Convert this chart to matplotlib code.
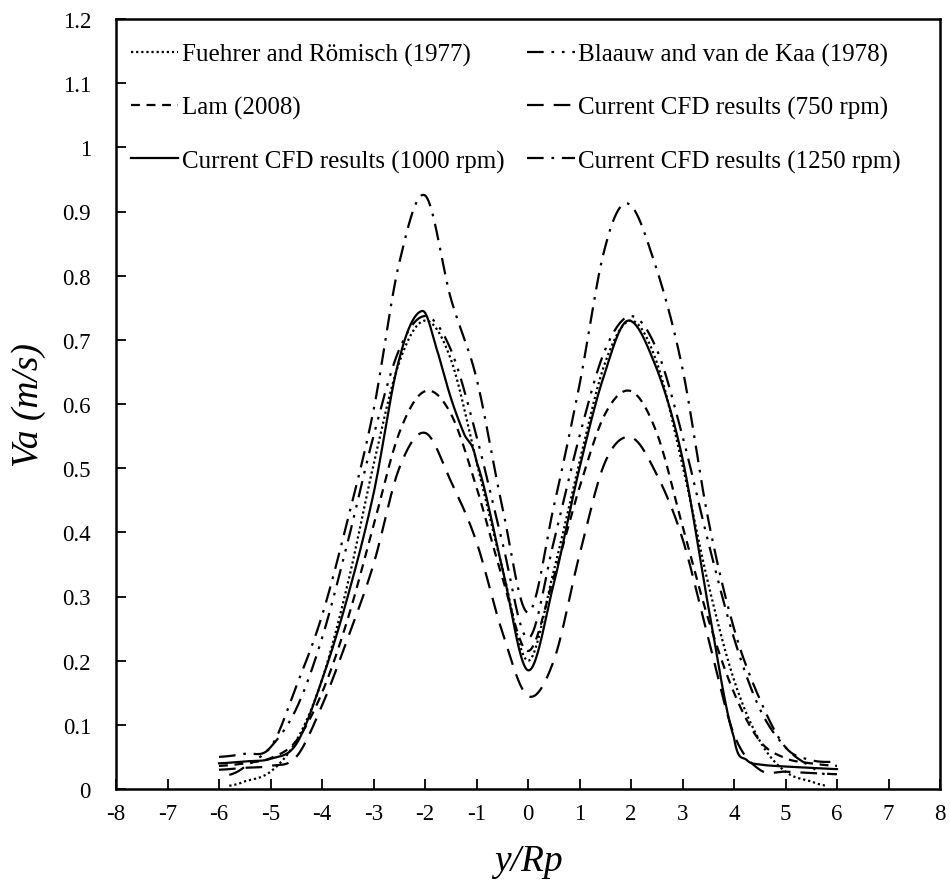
import matplotlib
matplotlib.use("Agg")
import matplotlib.pyplot as plt
import numpy as np

# ---------------- data ----------------
x_fuehrer = [-5.8, -5.5, -5.0, -4.5, -4.0, -3.5, -3.0, -2.5, -2.0, -1.5, -1.0, -0.5, 0.0,
             0.5, 1.0, 1.5, 2.0, 2.5, 3.0, 3.5, 4.0, 4.5, 5.0, 5.5, 5.8]
y_fuehrer = [0.005, 0.012, 0.027, 0.075, 0.17, 0.32, 0.505, 0.665, 0.73, 0.67, 0.51, 0.345, 0.20,
             0.34, 0.51, 0.665, 0.73, 0.665, 0.505, 0.32, 0.17, 0.075, 0.027, 0.012, 0.005]

x_blaauw = [-5.8, -5.5, -5.0, -4.5, -4.0, -3.5, -3.0, -2.5, -2.0, -1.5, -1.0, -0.5, 0.0,
            0.5, 1.0, 1.5, 2.0, 2.5, 3.0, 3.5, 4.0, 4.5, 5.0, 5.5, 5.8]
y_blaauw = [0.022, 0.035, 0.065, 0.125, 0.235, 0.385, 0.55, 0.685, 0.737, 0.685, 0.55, 0.385, 0.235,
            0.385, 0.55, 0.685, 0.737, 0.685, 0.55, 0.385, 0.235, 0.125, 0.065, 0.035, 0.022]

x_lam = [-6.0, -5.5, -5.0, -4.5, -4.0, -3.5, -3.0, -2.5, -2.0, -1.5, -1.0, -0.5, 0.0,
         0.5, 1.0, 1.5, 2.0, 2.5, 3.0, 3.5, 4.0, 4.5, 5.0, 5.5, 6.0]
y_lam = [0.036, 0.04, 0.048, 0.075, 0.15, 0.265, 0.41, 0.555, 0.62, 0.585, 0.47, 0.33, 0.215,
         0.33, 0.47, 0.585, 0.62, 0.555, 0.41, 0.265, 0.15, 0.075, 0.048, 0.04, 0.036]

x_750 = [-6.0, -5.5, -5.0, -4.5, -4.0, -3.5, -3.0, -2.5, -2.0, -1.5, -1.0, -0.5, 0.0,
         0.5, 1.0, 1.5, 2.0, 2.5, 3.0, 3.5, 4.0, 4.5, 5.0, 5.5, 6.0]
y_750 = [0.03, 0.033, 0.036, 0.05, 0.13, 0.235, 0.35, 0.50, 0.555, 0.48, 0.385, 0.245, 0.145,
         0.20, 0.365, 0.51, 0.548, 0.49, 0.39, 0.235, 0.085, 0.03, 0.027, 0.025, 0.023]

x_1000 = [-6.0, -5.5, -5.0, -4.5, -4.0, -3.5, -3.0, -2.5, -2.05, -1.75, -1.5, -1.25, -1.0, -0.5, 0.0,
          0.5, 1.0, 1.5, 1.95, 2.5, 3.0, 3.5, 4.0, 4.25, 4.5, 5.0, 5.5, 6.0]
y_1000 = [0.04, 0.043, 0.047, 0.07, 0.17, 0.30, 0.46, 0.67, 0.745, 0.68, 0.61, 0.555, 0.51, 0.345, 0.185,
          0.32, 0.50, 0.65, 0.73, 0.655, 0.515, 0.285, 0.08, 0.045, 0.038, 0.035, 0.033, 0.031]

x_1250 = [-6.0, -5.5, -5.0, -4.5, -4.0, -3.5, -3.0, -2.5, -2.0, -1.5, -1.0, -0.5, 0.0,
          0.5, 1.0, 1.5, 1.95, 2.5, 3.0, 3.5, 4.0, 4.5, 5.0, 5.5, 6.0]
y_1250 = [0.05, 0.055, 0.065, 0.16, 0.27, 0.42, 0.59, 0.82, 0.925, 0.765, 0.64, 0.44, 0.275,
          0.44, 0.63, 0.845, 0.912, 0.81, 0.655, 0.42, 0.25, 0.14, 0.065, 0.045, 0.042]

labels = ["Fuehrer and Römisch (1977)", "Blaauw and van de Kaa (1978)", "Lam (2008)",
          "Current CFD results (750 rpm)", "Current CFD results (1000 rpm)",
          "Current CFD results (1250 rpm)"]

xticks = list(range(-8, 9))
yticks = [0, 0.1, 0.2, 0.3, 0.4, 0.5, 0.6, 0.7, 0.8, 0.9, 1.0, 1.1, 1.2]
ytick_labels = ["0", "0.1", "0.2", "0.3", "0.4", "0.5", "0.6", "0.7", "0.8", "0.9", "1", "1.1", "1.2"]

# ---------------- plotting ----------------
plt.rcParams['font.family'] = ['Liberation Serif', 'DejaVu Serif']

fig = plt.figure(figsize=(9.5, 8.95), dpi=100)
ax = fig.add_axes([116/950, 1 - 790/895, (940-116)/950, (790-20)/895])

lw = 1.6


def smooth(xs, ys):
    """Cubic Hermite (Catmull-Rom) curve through the read points."""
    xs = np.asarray(xs, float)
    ys = np.asarray(ys, float)
    xx = np.linspace(xs[0], xs[-1], 600)
    n = len(xs)
    res = np.empty_like(xx)
    for k, xv in enumerate(xx):
        i = np.searchsorted(xs, xv) - 1
        i = min(max(i, 0), n - 2)
        x0, x1 = xs[i], xs[i + 1]
        t = (xv - x0) / (x1 - x0)
        p0 = ys[i - 1] if i > 0 else ys[i]
        p1, p2 = ys[i], ys[i + 1]
        p3 = ys[i + 2] if i + 2 < n else ys[i + 1]
        m1 = (p2 - p0) / 2.0
        m2 = (p3 - p1) / 2.0
        h00 = 2 * t**3 - 3 * t**2 + 1
        h10 = t**3 - 2 * t**2 + t
        h01 = -2 * t**3 + 3 * t**2
        h11 = t**3 - t**2
        res[k] = h00 * p1 + h10 * m1 + h01 * p2 + h11 * m2
    return xx, res


series = [
    (x_fuehrer, y_fuehrer, (0, (1, 1.3)), labels[0]),
    (x_lam, y_lam, (0, (4, 3)), labels[2]),
    (x_1000, y_1000, '-', labels[4]),
    (x_blaauw, y_blaauw, (0, (7.5, 3.5, 1.2, 3.5, 1.2, 3.5)), labels[1]),
    (x_750, y_750, (0, (7.5, 4.5)), labels[3]),
    (x_1250, y_1250, (0, (7.5, 3.5, 1.2, 3.5)), labels[5]),
]
for xs, ys, ls, lab in series:
    xx, yy = smooth(xs, ys)
    ax.plot(xx, yy, color='black', lw=lw, linestyle=ls, label=lab)

ax.set_xlim(-8, 8)
ax.set_ylim(0, 1.2)
ax.set_xticks(xticks)
ax.set_xticklabels([str(v) for v in xticks])
ax.set_yticks(yticks)
ax.set_yticklabels(ytick_labels)
ax.tick_params(direction='in', length=7, width=1.3, labelsize=16.5,
               top=False, right=False)
ax.tick_params(axis='x', pad=10)
ax.tick_params(axis='y', pad=18)
for s in ax.spines.values():
    s.set_linewidth(1.8)

ax.set_ylabel('Va (m/s)', fontsize=27, style='italic', labelpad=12)
ax.set_xlabel('y/Rp', fontsize=27, style='italic', labelpad=14)

leg = ax.legend(loc='upper left', bbox_to_anchor=(0.018, 0.9685), ncol=2,
                frameon=False, fontsize=18, handlelength=1.9, handletextpad=0.15,
                columnspacing=0.9, labelspacing=1.2, borderaxespad=0, borderpad=0)

fig.savefig('out.png', dpi=100)
